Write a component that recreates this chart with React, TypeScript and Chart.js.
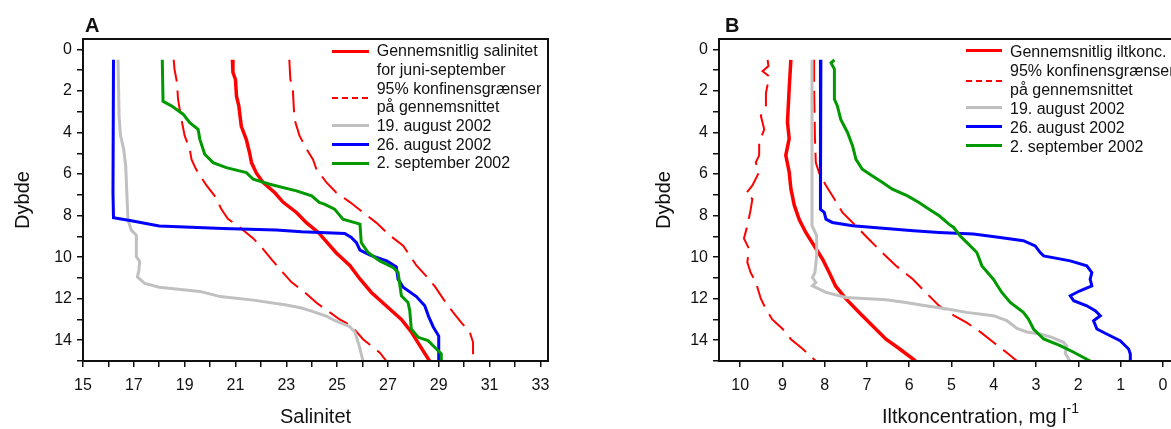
import React, { useEffect, useRef } from 'react';
import { Chart, registerables } from 'chart.js';

Chart.register(...registerables);

const FONT = '"Liberation Sans", Arial, Helvetica, sans-serif';

// ---------- tick values ----------
const depthTicks = [0, 1, 2, 3, 4, 5, 6, 7, 8, 9, 10, 11, 12, 13, 14, 15];
const salTicks = [15, 16, 17, 18, 19, 20, 21, 22, 23, 24, 25, 26, 27, 28, 29, 30, 31, 32, 33];
const oxTicks = [0, 1, 2, 3, 4, 5, 6, 7, 8, 9, 10];

// ---------- Panel A: salinity (x) vs depth (y) ----------
const meanSalDepth = [0.5, 1.1, 1.45, 2.25, 2.7, 3.7, 4.35, 5.0, 5.45, 5.95, 6.4, 6.9, 7.35, 7.85, 8.35, 8.8, 9.15, 9.8, 10.4, 11.05, 11.7, 12.35, 13.0, 13.6, 14.25, 15.0];
const meanSal = [20.88, 20.9, 21.0, 21.04, 21.13, 21.23, 21.43, 21.56, 21.63, 21.82, 22.08, 22.55, 22.87, 23.4, 23.8, 24.25, 24.5, 24.97, 25.5, 25.9, 26.35, 26.94, 27.53, 27.92, 28.25, 28.64];

const loSalDepth = [0.5, 0.95, 1.6, 2.4, 3.35, 4.15, 4.8, 5.3, 5.75, 6.55, 7.05, 7.7, 8.15, 8.5, 9.1, 9.6, 10.1, 10.75, 11.2, 11.7, 12.2, 12.65, 13.0, 13.3, 13.95, 14.6, 15.0];
const loSal = [18.57, 18.6, 18.7, 18.74, 18.87, 19.0, 19.2, 19.27, 19.44, 19.86, 20.18, 20.45, 20.7, 21.1, 21.7, 22.08, 22.41, 22.87, 23.2, 23.73, 24.19, 24.7, 25.1, 25.56, 26.02, 26.68, 26.94];

const hiSalDepth = [0.5, 1.45, 1.75, 3.35, 4.15, 4.8, 5.3, 5.75, 6.4, 6.9, 7.35, 7.85, 8.35, 8.95, 9.45, 10.4, 10.9, 11.4, 12.0, 12.65, 13.15, 13.6, 14.1, 15.0];
const hiSal = [23.12, 23.16, 23.25, 23.32, 23.52, 23.8, 24.05, 24.18, 24.58, 24.97, 25.5, 26.02, 26.55, 27.07, 27.6, 28.12, 28.5, 28.84, 29.17, 29.56, 29.89, 30.22, 30.35, 30.35];

const aug19SalDepth = [0.5, 3.2, 4.1, 4.8, 5.6, 8.2, 8.7, 8.95, 9.98, 10.2, 10.63, 10.95, 11.27, 11.45, 11.65, 11.9, 12.07, 12.3, 12.45, 12.6, 12.85, 13.05, 13.35, 13.6, 14.4, 15.0];
const aug19Sal = [16.38, 16.42, 16.47, 16.6, 16.68, 16.77, 16.9, 17.1, 17.1, 17.23, 17.2, 17.14, 17.43, 18.0, 19.6, 20.4, 21.7, 23.0, 23.6, 24.0, 24.6, 24.9, 25.5, 25.7, 25.9, 26.02];

const aug26SalDepth = [0.5, 6.9, 8.1, 8.25, 8.5, 8.62, 8.7, 8.78, 8.86, 9.05, 9.3, 9.66, 9.9, 10.18, 10.47, 11.06, 11.45, 11.9, 12.34, 12.85, 13.35, 13.8, 15.0];
const aug26Sal = [16.2, 16.18, 16.2, 16.9, 18.0, 20.5, 22.6, 23.6, 25.3, 25.56, 25.76, 25.9, 26.3, 26.95, 27.33, 27.4, 27.6, 28.12, 28.45, 28.6, 28.78, 29.0, 29.0];

const sep2SalDepth = [0.5, 2.5, 2.72, 3.12, 3.53, 3.85, 4.33, 5.05, 5.45, 5.69, 5.93, 6.25, 6.49, 6.81, 7.05, 7.37, 7.45, 7.69, 8.17, 8.41, 9.3, 9.78, 10.18, 10.5, 10.74, 11.86, 12.18, 12.58, 13.46, 13.86, 14.02, 14.34, 14.66, 15.0];
const sep2Sal = [18.12, 18.15, 18.48, 18.94, 19.2, 19.53, 19.6, 19.79, 20.12, 20.64, 21.43, 21.7, 22.35, 23.4, 24.0, 24.3, 24.5, 24.9, 25.23, 25.9, 25.95, 26.22, 26.68, 27.2, 27.4, 27.53, 27.79, 27.86, 27.92, 28.19, 28.58, 28.84, 29.1, 29.1];

// ---------- Panel B: oxygen (x, reversed) vs depth (y) ----------
const meanOxDepth = [0.5, 1.9, 3.5, 4.3, 5.1, 5.9, 6.7, 7.5, 8.2, 8.8, 9.45, 10.1, 10.75, 11.4, 12.0, 12.65, 13.3, 13.95, 14.4, 15.0];
const meanOx = [8.8, 8.84, 8.88, 8.84, 8.92, 8.84, 8.8, 8.72, 8.6, 8.45, 8.25, 8.05, 7.89, 7.74, 7.5, 7.19, 6.87, 6.55, 6.24, 5.85];

const hiOxDepth = [0.5, 0.8, 1.05, 1.3, 2.1, 2.7, 3.2, 3.85, 4.5, 5.1, 5.45, 5.9, 6.55, 6.95, 7.2, 7.7, 8.5, 9.1, 9.6, 10.25, 10.75, 11.2, 12.0, 12.5, 13.0, 13.45, 13.95, 14.4, 15.0];
const hiOx = [9.35, 9.33, 9.47, 9.31, 9.39, 9.39, 9.51, 9.43, 9.55, 9.55, 9.63, 9.55, 9.71, 9.87, 9.71, 9.75, 9.83, 9.91, 9.79, 9.83, 9.75, 9.63, 9.51, 9.39, 9.24, 9.0, 8.8, 8.53, 8.21];

const loOxDepth = [0.5, 1.9, 4.3, 5.45, 5.95, 6.55, 7.2, 7.85, 8.5, 9.15, 9.8, 10.4, 11.05, 11.7, 12.35, 12.8, 13.15, 13.6, 14.1, 14.6, 15.0];
const loOx = [8.25, 8.25, 8.23, 8.21, 8.13, 7.97, 7.77, 7.58, 7.26, 6.95, 6.63, 6.32, 5.92, 5.61, 5.29, 4.95, 4.64, 4.32, 4.01, 3.69, 3.45];

const aug19OxDepth = [0.5, 8.5, 8.65, 8.97, 9.94, 10.74, 10.98, 11.22, 11.38, 11.7, 11.94, 12.05, 12.18, 12.34, 12.5, 12.66, 12.82, 13.06, 13.43, 13.6, 13.7, 13.86, 14.1, 14.3, 14.63, 15.0];
const aug19Ox = [8.3, 8.3, 8.26, 8.19, 8.19, 8.23, 8.29, 8.21, 8.29, 7.97, 7.5, 6.55, 6.08, 5.61, 5.1, 4.64, 4.01, 3.69, 3.45, 3.22, 2.9, 2.62, 2.35, 2.27, 2.31, 2.2];

const aug26OxDepth = [0.5, 7.5, 7.7, 7.85, 8.17, 8.33, 8.49, 8.62, 8.73, 8.81, 8.89, 9.05, 9.21, 9.46, 9.78, 9.94, 10.18, 10.42, 10.74, 11.06, 11.38, 11.62, 11.86, 12.1, 12.34, 12.58, 12.82, 13.06, 13.46, 13.7, 14.02, 14.42, 14.66, 15.0];
const aug26Ox = [8.09, 8.11, 8.09, 8.01, 7.97, 7.82, 7.34, 6.55, 5.9, 5.3, 4.48, 3.85, 3.3, 3.02, 2.9, 2.82, 2.19, 1.8, 1.68, 1.72, 1.68, 1.96, 2.19, 2.11, 1.8, 1.6, 1.48, 1.64, 1.56, 1.33, 1.01, 0.81, 0.77, 0.77];

const sep2OxDepth = [0.5, 0.65, 0.95, 2.4, 2.72, 3.37, 4.0, 4.65, 5.29, 5.77, 6.09, 6.41, 6.73, 7.05, 7.37, 7.69, 8.01, 8.41, 8.57, 8.97, 9.29, 9.78, 10.42, 11.06, 11.7, 12.18, 12.66, 12.98, 13.46, 13.94, 14.26, 14.58, 15.0];
const sep2Ox = [7.77, 7.85, 7.77, 7.77, 7.7, 7.62, 7.46, 7.34, 7.26, 7.11, 6.87, 6.63, 6.4, 6.04, 5.77, 5.53, 5.29, 5.06, 4.95, 4.8, 4.64, 4.4, 4.28, 4.01, 3.81, 3.61, 3.3, 3.18, 3.06, 2.82, 2.43, 2.11, 1.72];

// ---------- legend texts ----------
const legendALines = ['Gennemsnitlig salinitet', 'for juni-september', '95% konfinensgrænser', 'på gennemsnittet', '19. august 2002', '26. august 2002', '2. september 2002'];
const legendBLines = ['Gennemsnitlig iltkonc.', '95% konfinensgrænser', 'på gennemsnittet', '19. august 2002', '26. august 2002', '2. september 2002'];

const RED = '#ff0000';
const GRAY = '#c0c0c0';
const BLUE = '#0000ff';
const GREEN = '#009900';

function pts(depths: number[], vals: number[]) {
  return vals.map((v, i) => ({ x: v, y: depths[i] }));
}

function makeDatasets(mean: any, lo: any, hi: any, g: any, b: any, gr: any) {
  const base = { pointRadius: 0, tension: 0, fill: false };
  return [
    { ...base, label: 'mean', data: mean, borderColor: RED, borderWidth: 3.5, order: 3 },
    { ...base, label: 'lo', data: lo, borderColor: RED, borderWidth: 2, borderDash: [22, 9], order: 4 },
    { ...base, label: 'hi', data: hi, borderColor: RED, borderWidth: 2, borderDash: [22, 9], order: 4 },
    { ...base, label: '19. august 2002', data: g, borderColor: GRAY, borderWidth: 3, order: 2 },
    { ...base, label: '26. august 2002', data: b, borderColor: BLUE, borderWidth: 3, order: 1 },
    { ...base, label: '2. september 2002', data: gr, borderColor: GREEN, borderWidth: 3, order: 0 },
  ];
}

const framePlugin = {
  id: 'frame',
  afterDraw(chart: any) {
    const { ctx, chartArea: a } = chart;
    ctx.save();
    ctx.strokeStyle = '#111';
    ctx.lineWidth = 2;
    ctx.strokeRect(a.left, a.top, a.right - a.left, a.bottom - a.top);
    ctx.restore();
  },
};

interface PanelProps {
  left: number;
  datasets: any[];
  xMin: number;
  xMax: number;
  xReverse: boolean;
  xTicks: number[];
  xLabel: (v: number) => string;
  xTitle: string;
  yTitlePad: number;
}

function Panel({ left, datasets, xMin, xMax, xReverse, xTicks, xLabel, xTitle, yTitlePad }: PanelProps) {
  const ref = useRef<HTMLCanvasElement>(null);
  useEffect(() => {
    if (!ref.current) return;
    const tickFont = { family: FONT, size: 16 };
    const titleFont = { family: FONT, size: 20 };
    const grid = { drawOnChartArea: false, drawTicks: true, tickLength: 6, color: '#111', lineWidth: 1.5 };
    const chart = new Chart(ref.current, {
      type: 'line',
      data: { datasets },
      options: {
        responsive: false,
        animation: false,
        layout: { padding: { left: 0, top: 39, right: 52, bottom: 0 } },
        plugins: { legend: { display: false }, tooltip: { enabled: false } },
        scales: {
          x: {
            type: 'linear',
            position: 'bottom',
            min: xMin,
            max: xMax,
            reverse: xReverse,
            afterBuildTicks: (s: any) => { s.ticks = xTicks.map((v) => ({ value: v })); },
            afterFit: (s: any) => { s.height = 68; },
            ticks: {
              autoSkip: false,
              maxRotation: 0,
              font: tickFont,
              color: '#111',
              padding: 9,
              callback: (v: any) => xLabel(Number(v)),
            },
            grid,
            border: { display: false },
            title: { display: !!xTitle, text: xTitle, font: titleFont, color: '#111', padding: { top: 0, bottom: 0 } },
          },
          y: {
            type: 'linear',
            min: -0.5,
            max: 15,
            reverse: true,
            afterBuildTicks: (s: any) => { s.ticks = depthTicks.map((v) => ({ value: v })); },
            afterFit: (s: any) => { s.width = 83; },
            ticks: {
              autoSkip: false,
              font: tickFont,
              color: '#111',
              padding: 5,
              callback: (v: any) => (Number(v) % 2 === 0 ? String(v) : ''),
            },
            grid,
            border: { display: false },
            title: { display: true, text: 'Dybde', font: titleFont, color: '#111', padding: { top: yTitlePad, bottom: 0 } },
          },
        },
      },
      plugins: [framePlugin],
    } as any);
    return () => chart.destroy();
  }, []);
  return (
    <canvas
      ref={ref}
      width={600}
      height={429}
      style={{ position: 'absolute', left, top: 0, width: 600, height: 429 }}
    />
  );
}

interface Sample { y: number; color: string; dashed?: boolean }

function Legend({ lines, top, lineH, textLeft, sampleLeft, sampleW, samples }: { lines: string[]; top: number; lineH: number; textLeft: number; sampleLeft: number; sampleW: number; samples: Sample[] }) {
  return (
    <>
      <div style={{ position: 'absolute', left: textLeft, top, font: `16px ${FONT}`, lineHeight: `${lineH}px`, color: '#111', whiteSpace: 'nowrap' }}>
        {lines.map((l, i) => (<div key={i}>{l}</div>))}
      </div>
      {samples.map((s, i) => (
        <div
          key={i}
          style={{
            position: 'absolute',
            left: sampleLeft,
            top: s.y - (s.dashed ? 1 : 1.5),
            width: sampleW,
            height: s.dashed ? 2 : 3,
            background: s.dashed
              ? `repeating-linear-gradient(to right, ${s.color} 0px, ${s.color} 6px, transparent 6px, transparent 10px)`
              : s.color,
          }}
        />
      ))}
    </>
  );
}

export default function App() {
  const dsA = makeDatasets(
    pts(meanSalDepth, meanSal), pts(loSalDepth, loSal), pts(hiSalDepth, hiSal),
    pts(aug19SalDepth, aug19Sal), pts(aug26SalDepth, aug26Sal), pts(sep2SalDepth, sep2Sal)
  );
  const dsB = makeDatasets(
    pts(meanOxDepth, meanOx), pts(loOxDepth, loOx), pts(hiOxDepth, hiOx),
    pts(aug19OxDepth, aug19Ox), pts(aug26OxDepth, aug26Ox), pts(sep2OxDepth, sep2Ox)
  );
  return (
    <div style={{ position: 'absolute', left: 0, top: 0, width: 1171, height: 429, overflow: 'hidden', background: '#fff' }}>
      <Panel
        left={0}
        datasets={dsA}
        xMin={15}
        xMax={33.3}
        xReverse={false}
        xTicks={salTicks}
        xLabel={(v) => (Math.abs(v % 2) === 1 ? String(v) : '')}
        xTitle="Salinitet"
        yTitlePad={11}
      />
      <Panel
        left={636}
        datasets={dsB}
        xMin={-0.5}
        xMax={10.5}
        xReverse={true}
        xTicks={oxTicks}
        xLabel={(v) => String(v)}
        xTitle=""
        yTitlePad={16}
      />
      <div style={{ position: 'absolute', left: 85, top: 15, font: `bold 20px ${FONT}`, lineHeight: '20px', color: '#111' }}>A</div>
      <div style={{ position: 'absolute', left: 725, top: 15, font: `bold 20px ${FONT}`, lineHeight: '20px', color: '#111' }}>B</div>
      <div style={{ position: 'absolute', left: 882, top: 406, font: `20px ${FONT}`, lineHeight: '20px', color: '#111', whiteSpace: 'nowrap' }}>
        Iltkoncentration, mg l<span style={{ fontSize: 14, position: 'relative', top: -10 }}>-1</span>
      </div>
      <Legend
        lines={legendALines}
        top={42.4}
        lineH={18.63}
        textLeft={376.7}
        sampleLeft={332}
        sampleW={37}
        samples={[
          { y: 51.7, color: RED },
          { y: 98.3, color: RED, dashed: true },
          { y: 125.7, color: GRAY },
          { y: 144.3, color: BLUE },
          { y: 163.3, color: GREEN },
        ]}
      />
      <Legend
        lines={legendBLines}
        top={41.6}
        lineH={19}
        textLeft={1010}
        sampleLeft={966}
        sampleW={36}
        samples={[
          { y: 50.7, color: RED },
          { y: 81, color: RED, dashed: true },
          { y: 107, color: GRAY },
          { y: 126, color: BLUE },
          { y: 145.7, color: GREEN },
        ]}
      />
    </div>
  );
}
